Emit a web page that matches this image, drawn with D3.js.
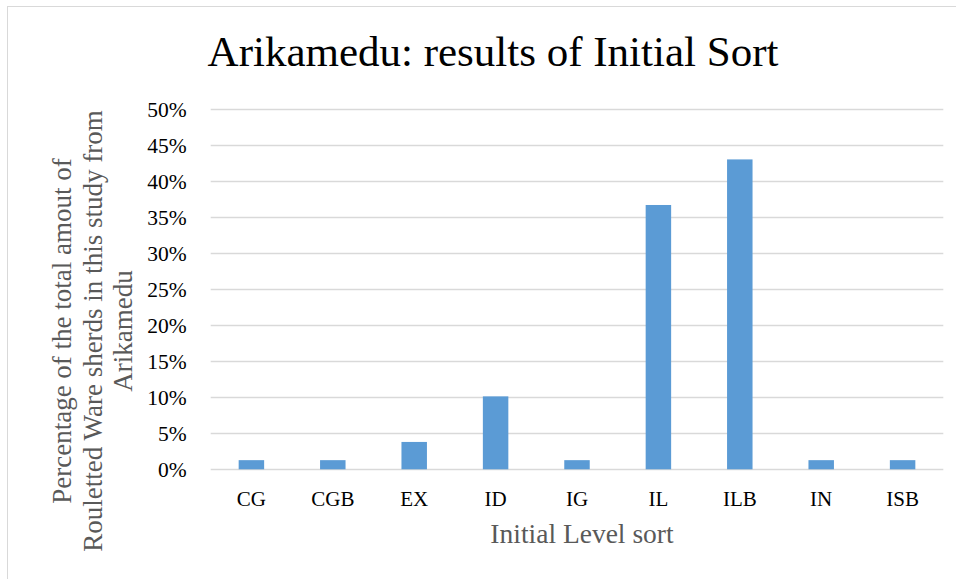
<!DOCTYPE html>
<html>
<head>
<meta charset="utf-8">
<script src="https://cdn.jsdelivr.net/npm/d3@7"></script>
<style>
  html, body { margin: 0; padding: 0; background: #fff; }
  svg { display: block; }
  text { font-family: "Liberation Serif", "Times New Roman", serif; }
</style>
</head>
<body>
<svg id="chart" width="956" height="579"></svg>
<script>
// Initial Level sort categories and their share of the Arikamedu sherds (%)
const categories = ["CG", "CGB", "EX", "ID", "IG", "IL", "ILB", "IN", "ISB"];
const shares = [1.27, 1.27, 3.80, 10.13, 1.27, 36.71, 43.04, 1.27, 1.27];
const yTicks = [0, 5, 10, 15, 20, 25, 30, 35, 40, 45, 50];

const chartTitle = "Arikamedu: results of Initial Sort";
const xTitle = "Initial Level sort";
const yTitleLines = [
  "Percentage of the total amout of",
  "Rouletted Ware sherds in this study from",
  "Arikamedu"
];

const svg = d3.select("#chart");
const W = 956, H = 579;

// chart frame
svg.append("rect")
  .attr("x", 7.5).attr("y", 6.5)
  .attr("width", W + 10).attr("height", H + 10)
  .attr("fill", "#fff")
  .attr("stroke", "#d9d9d9").attr("stroke-width", 1);

const plot = { left: 210.7, right: 943.3, top: 109.3, bottom: 469.3 };

const x = d3.scaleBand()
  .domain(categories)
  .range([plot.left, plot.right])
  .paddingInner(0.687)
  .paddingOuter(0.3435);

const y = d3.scaleLinear()
  .domain([0, 50])
  .range([plot.bottom, plot.top]);

// horizontal gridlines
svg.append("g")
  .selectAll("line")
  .data(yTicks)
  .join("line")
  .attr("x1", plot.left).attr("x2", plot.right)
  .attr("y1", d => Math.round(y(d)) + 0.5)
  .attr("y2", d => Math.round(y(d)) + 0.5)
  .attr("stroke", "#d9d9d9").attr("stroke-width", 1.3);

// y-axis tick labels
const yAxis = d3.axisLeft(y)
  .tickValues(yTicks)
  .tickFormat(d => d + "%")
  .tickSize(0)
  .tickPadding(24);
const gy = svg.append("g")
  .attr("transform", `translate(${plot.left},0)`)
  .call(yAxis);
gy.select(".domain").remove();
gy.selectAll("text")
  .attr("font-size", 21.5)
  .attr("fill", "#000")
  .style("font-family", "'Liberation Serif', 'Times New Roman', serif");

// bars
svg.append("g")
  .selectAll("rect")
  .data(categories.map((c, i) => ({ c, v: shares[i] })))
  .join("rect")
  .attr("x", d => x(d.c))
  .attr("width", x.bandwidth())
  .attr("y", d => y(d.v))
  .attr("height", d => y(0) - y(d.v))
  .attr("fill", "#5b9bd5");

// category labels
const xAxis = d3.axisBottom(x).tickSize(0).tickPadding(22);
const gx = svg.append("g")
  .attr("transform", `translate(0,${plot.bottom})`)
  .call(xAxis);
gx.select(".domain").remove();
gx.selectAll("text")
  .attr("font-size", 21)
  .attr("fill", "#000")
  .style("font-family", "'Liberation Serif', 'Times New Roman', serif");

// chart title
svg.append("text")
  .attr("x", 493).attr("y", 66)
  .attr("text-anchor", "middle")
  .attr("font-size", 43)
  .attr("fill", "#000")
  .text(chartTitle);

// x-axis title
svg.append("text")
  .attr("x", 582).attr("y", 543)
  .attr("text-anchor", "middle")
  .attr("font-size", 27.5)
  .attr("fill", "#595959")
  .text(xTitle);

// y-axis title (three rotated lines)
const yt = svg.append("text")
  .attr("transform", "translate(0,331) rotate(-90)")
  .attr("text-anchor", "middle")
  .attr("font-size", 27)
  .attr("fill", "#595959");
yt.selectAll("tspan")
  .data(yTitleLines)
  .join("tspan")
  .attr("x", 0)
  .attr("y", (d, i) => 71 + i * 30.5)
  .text(d => d);
</script>
</body>
</html>
